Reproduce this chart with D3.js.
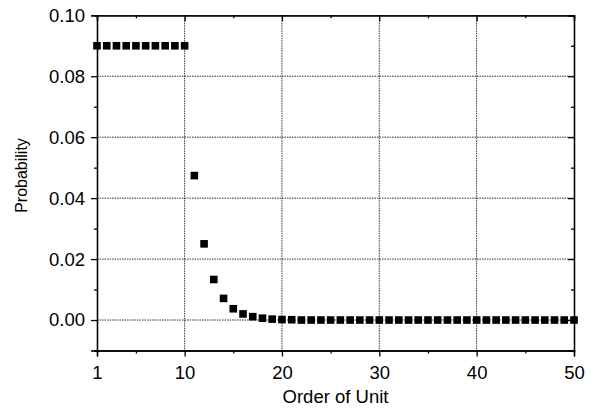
<!DOCTYPE html>
<html><head><meta charset="utf-8">
<script src="https://cdn.jsdelivr.net/npm/d3@7"></script>
<style>body{margin:0;background:#fff}svg{display:block}text{font-family:"Liberation Sans",Arial,sans-serif}</style>
</head><body><svg id="c" width="591" height="409"></svg>
<script>
const units = d3.range(1, 51);
const probs = [0.09,0.09,0.09,0.09,0.09,0.09,0.09,0.09,0.09,0.09,
  0.0474,0.0250,0.0133,0.0071,0.0037,0.0020,0.0011,0.0006,0.0003,0.00015,
  0.0001,0,0,0,0,0,0,0,0,0,0,0,0,0,0,0,0,0,0,0,0,0,0,0,0,0,0,0,0,0];
const xTicks = [1,10,20,30,40,50];
const xMinor = [5,15,25,35,45];
const yTicks = [0.00,0.02,0.04,0.06,0.08,0.10];
const yMinor = [-0.01,0.01,0.03,0.05,0.07,0.09];
const xLabel = "Order of Unit", yLabel = "Probability";

const L=97,R=574,T=15.3,B=350.5;
const svg=d3.select("#c");
const x=d3.scaleLinear().domain([1,50]).range([L,R]);
const y=d3.scaleLinear().domain([-0.01,0.10]).range([B,T]);

// grid
const g=svg.append("g");
g.selectAll(".gx").data(xTicks.filter(v=>v>1&&v<50)).join("line")
 .attr("x1",d=>x(d)).attr("x2",d=>x(d)).attr("y1",T).attr("y2",B)
 .attr("stroke","#333").attr("stroke-width",1).attr("stroke-dasharray","1.5,1");
g.selectAll(".gy").data(yTicks.filter(v=>v<0.1)).join("line")
 .attr("y1",d=>y(d)).attr("y2",d=>y(d)).attr("x1",L).attr("x2",R)
 .attr("stroke","#333").attr("stroke-width",1).attr("stroke-dasharray","1.5,1");

// axes
const fmt=d3.format(".2f");
svg.append("g").attr("transform",`translate(0,${B})`)
 .call(d3.axisBottom(x).tickValues(xTicks).tickSize(6).tickPadding(9).tickFormat(d3.format("d")));
svg.append("g").attr("transform",`translate(0,${B})`)
 .call(d3.axisBottom(x).tickValues(xMinor).tickSize(3).tickFormat(""));
svg.append("g").attr("transform",`translate(${L},0)`)
 .call(d3.axisLeft(y).tickValues(yTicks).tickSize(6).tickPadding(6).tickFormat(fmt));
svg.append("g").attr("transform",`translate(${L},0)`)
 .call(d3.axisLeft(y).tickValues(yMinor).tickSize(3).tickFormat(""));
svg.append("g").attr("transform",`translate(0,${T})`)
 .call(d3.axisBottom(x).tickValues(xTicks).tickSize(6).tickFormat(""));
svg.append("g").attr("transform",`translate(0,${T})`)
 .call(d3.axisBottom(x).tickValues(xMinor).tickSize(3).tickFormat(""));
svg.append("g").attr("transform",`translate(${R},0)`)
 .call(d3.axisLeft(y).tickValues(yTicks).tickSize(6).tickFormat(""));
svg.append("g").attr("transform",`translate(${R},0)`)
 .call(d3.axisLeft(y).tickValues(yMinor).tickSize(3).tickFormat(""));
svg.selectAll(".domain").attr("stroke","#000").attr("stroke-width",1.3);
svg.selectAll(".tick line").attr("stroke","#000").attr("stroke-width",1.3);
svg.selectAll(".tick text").attr("font-size",18.5).attr("fill","#000").style("font-family","Liberation Sans, Arial, sans-serif");

// points
const s=7.6;
svg.append("g").selectAll("rect").data(units.map((u,i)=>[u,probs[i]])).join("rect")
 .attr("x",d=>x(d[0])-s/2).attr("y",d=>y(d[1])-s/2).attr("width",s).attr("height",s).attr("fill","#000");

svg.append("text").attr("x",(L+R)/2).attr("y",403).attr("text-anchor","middle").attr("font-size",18.5).text(xLabel);
svg.append("text").attr("transform",`translate(26.5,175.5) rotate(-90)`).attr("text-anchor","middle").attr("font-size",16).text(yLabel);
</script></body></html>
